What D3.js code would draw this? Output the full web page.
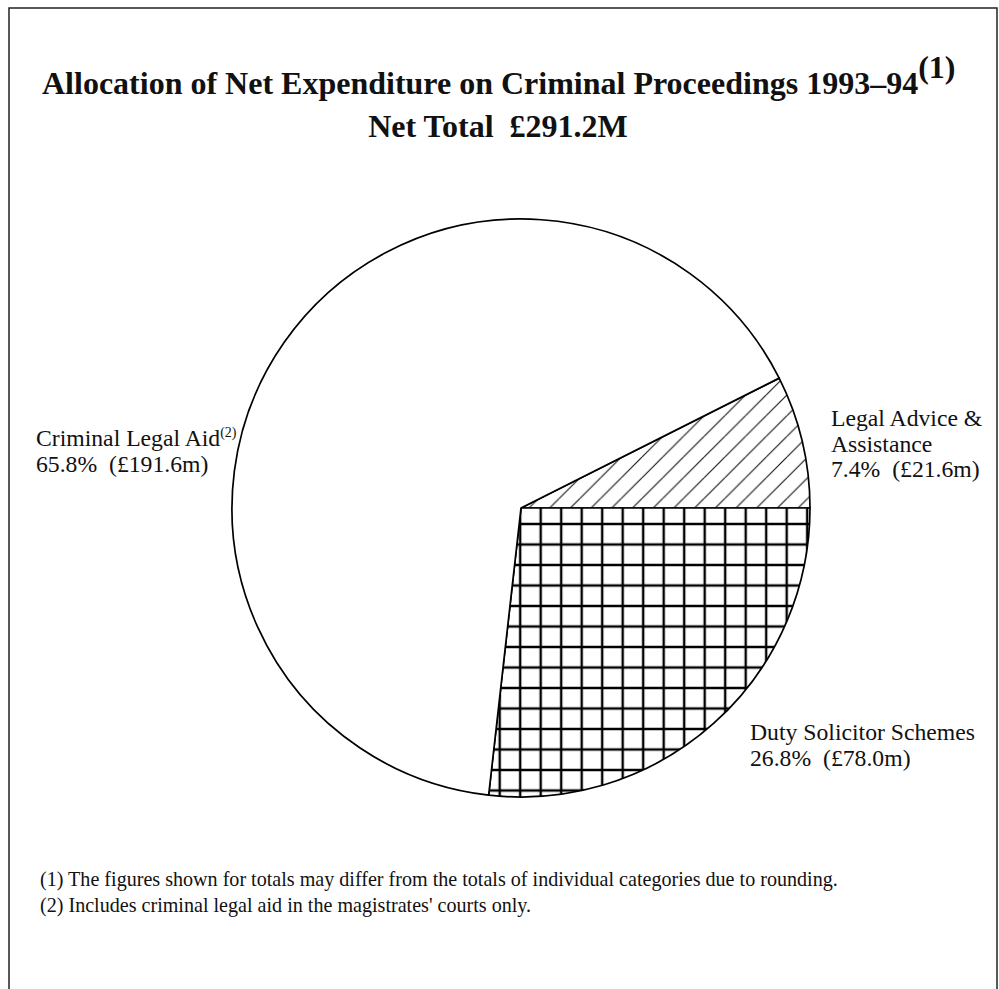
<!DOCTYPE html>
<html><head><meta charset="utf-8">
<script src="https://cdn.jsdelivr.net/npm/d3@7"></script>
<style>
body{margin:0;background:#fff;}
text{white-space:pre;font-family:"Liberation Serif","Times New Roman",serif;fill:#111;}
</style></head>
<body>
<script>
const categories = ["Legal Advice & Assistance", "Duty Solicitor Schemes", "Criminal Legal Aid"];
const amounts = [21.6, 78.0, 191.6];           // £m
const percents = ["7.4%", "26.8%", "65.8%"];
const amountLabels = ["(£21.6m)", "(£78.0m)", "(£191.6m)"];
const total = 291.2;
const footnotes = [
  "(1) The figures shown for totals may differ from the totals of individual categories due to rounding.",
  "(2) Includes criminal legal aid in the magistrates' courts only."
];

const W = 999, H = 989;
const svg = d3.select("body").append("svg").attr("width", W).attr("height", H);

// frame
svg.append("rect").attr("x", 9).attr("y", 8).attr("width", 988).attr("height", 1000)
  .attr("fill", "none").attr("stroke", "#222").attr("stroke-width", 1.5);

const defs = svg.append("defs");
const cx = 521, cy = 508, R = 289;

// cross-hatch grid pattern
const g = 20.5;
const grid = defs.append("pattern").attr("id", "grid").attr("patternUnits", "userSpaceOnUse")
  .attr("x", cx - 9.3).attr("y", cy).attr("width", g).attr("height", g);
grid.append("rect").attr("width", g).attr("height", g).attr("fill", "#fff");
grid.append("path").attr("d", `M0,0H${g}M0,${g}H${g}M0,0V${g}M${g},0V${g}`)
  .attr("stroke", "#000").attr("stroke-width", 2.4);

// diagonal hatch pattern
const h = 20.7;
const hatch = defs.append("pattern").attr("id", "hatch").attr("patternUnits", "userSpaceOnUse")
  .attr("x", 535).attr("y", cy).attr("width", h).attr("height", h);
hatch.append("rect").attr("width", h).attr("height", h).attr("fill", "#fff");
hatch.append("path").attr("d", `M0,0L${-h},${h}M${h},0L0,${h}M${2*h},0L${h},${h}`)
  .attr("stroke", "#111").attr("stroke-width", 1.1);

const fills = ["url(#hatch)", "url(#grid)", "#fff"];

const start = Math.PI / 2 - 2 * Math.PI * amounts[0] / d3.sum(amounts);
const pie = d3.pie().sort(null).value(d => d).startAngle(start).endAngle(start + 2 * Math.PI);
const arc = d3.arc().innerRadius(0).outerRadius(R);

const pg = svg.append("g").attr("transform", `translate(${cx},${cy})`);
pg.selectAll("path").data(pie(amounts)).join("path")
  .attr("d", arc).attr("fill", (d, i) => fills[i])
  .attr("stroke", "#000").attr("stroke-width", 1.7).attr("stroke-linejoin", "round");

// title
const title = svg.append("text").attr("x", 42).attr("y", 94)
  .attr("font-weight", "bold").attr("font-size", 32);
title.append("tspan").text("Allocation of Net Expenditure on Criminal Proceedings 1993\u201394");
title.append("tspan").attr("dy", -16).text("(1)");
svg.append("text").attr("x", 498).attr("y", 137).attr("text-anchor", "middle")
  .attr("font-weight", "bold").attr("font-size", 32).text("Net Total  \u00a3" + total.toFixed(1) + "M");

// labels
const fs = 23.7;
function label(x, y, lines, sup) {
  const t = svg.append("g");
  lines.forEach((ln, i) => {
    const tx = t.append("text").attr("x", x).attr("y", y + i * 25.5).attr("font-size", fs).text(ln);
    if (i === 0 && sup) tx.append("tspan").attr("font-size", 14).attr("dy", -9).text(sup);
  });
}
label(36, 446, ["Criminal Legal Aid", percents[2] + "  " + amountLabels[2]], "(2)");
label(831, 426, ["Legal Advice &", "Assistance", percents[0] + "  " + amountLabels[0]]);
label(750, 740, ["Duty Solicitor Schemes", percents[1] + "  " + amountLabels[1]]);

// footnotes
footnotes.forEach((f, i) => {
  svg.append("text").attr("x", 40).attr("y", 886 + i * 26).attr("font-size", 20.1).text(f);
});
</script>
</body></html>
